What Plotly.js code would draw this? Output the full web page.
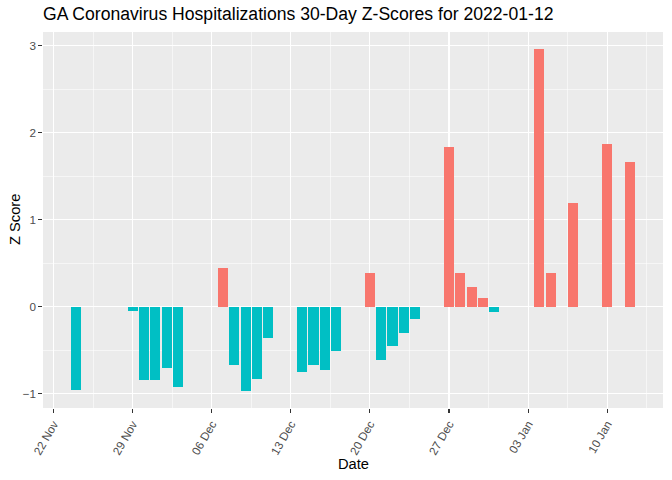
<!DOCTYPE html>
<html>
<head>
<meta charset="utf-8">
<script src="https://cdn.plot.ly/plotly-3.0.1.min.js"></script>
<style>html,body{margin:0;padding:0;background:#fff;}#chart{width:672px;height:480px;}</style>
</head>
<body>
<div id="chart"></div>
<script>
var dates = ["2021-11-24","2021-11-29","2021-11-30","2021-12-01","2021-12-02","2021-12-03",
  "2021-12-07","2021-12-08","2021-12-09","2021-12-10","2021-12-11",
  "2021-12-14","2021-12-15","2021-12-16","2021-12-17",
  "2021-12-20","2021-12-21","2021-12-22","2021-12-23","2021-12-24",
  "2021-12-27","2021-12-28","2021-12-29","2021-12-30","2021-12-31",
  "2022-01-04","2022-01-05","2022-01-07","2022-01-10","2022-01-12"];
var zScores = [-0.96,-0.05,-0.84,-0.85,-0.71,-0.92,
  0.44,-0.67,-0.97,-0.83,-0.36,
  -0.75,-0.67,-0.73,-0.51,
  0.38,-0.61,-0.45,-0.30,-0.14,
  1.83,0.39,0.22,0.10,-0.06,
  2.96,0.39,1.19,1.87,1.66];
var posColor = "#F8766D", negColor = "#00BFC4";

var DAY = 86400000;
var barW = 0.9 * DAY;
function t(s){ return Date.parse(s + "T00:00:00Z"); }
var tMin = Math.min.apply(null, dates.map(t)) - barW/2;
var tMax = Math.max.apply(null, dates.map(t)) + barW/2;
var xPad = (tMax - tMin) * 0.05;
function iso(ms){ return new Date(ms).toISOString().replace("T"," ").replace("Z",""); }
var yMin = Math.min(0, Math.min.apply(null, zScores));
var yMax = Math.max(0, Math.max.apply(null, zScores));
var yPad = (yMax - yMin) * 0.05;

var trace = {
  type: "bar",
  x: dates,
  y: zScores,
  width: dates.map(function(){ return barW; }),
  marker: {color: zScores.map(function(v){ return v >= 0 ? posColor : negColor; }), line: {width: 0}},
  hoverinfo: "x+y",
  showlegend: false
};

var layout = {
  width: 672, height: 480,
  margin: {l: 43, r: 9, t: 32, b: 72},
  paper_bgcolor: "#FFFFFF",
  plot_bgcolor: "#EBEBEB",
  font: {family: "Liberation Sans, Arial, sans-serif", color: "#000000"},
  title: {text: "GA Coronavirus Hospitalizations 30-Day Z-Scores for 2022-01-12",
    font: {size: 17.6, color: "#000000"},
    x: 43/672, xanchor: "left", xref: "container", y: 1 - 14/480, yanchor: "middle", yref: "container"},
  bargap: 0,
  xaxis: {
    type: "date",
    range: [iso(tMin - xPad), iso(tMax + xPad)],
    tick0: "2021-11-22", dtick: 7 * DAY,
    tickformat: "%d %b",
    tickangle: -60,
    ticks: "outside", ticklen: 3.7, tickwidth: 1.07, tickcolor: "#333333",
    tickfont: {size: 11.7, color: "#4D4D4D"},
    showgrid: true, gridcolor: "#FFFFFF", gridwidth: 1.07,
    minor: {tick0: "2021-11-22", dtick: 3.5 * DAY, showgrid: true, gridcolor: "#FFFFFF", gridwidth: 0.53, ticks: ""},
    zeroline: false, showline: false,
    automargin: false
  },
  yaxis: {
    range: [yMin - yPad, yMax + yPad],
    tick0: 0, dtick: 1,
    ticks: "outside", ticklen: 3.7, tickwidth: 1.07, tickcolor: "#333333",
    tickfont: {size: 11.7, color: "#4D4D4D"},
    showgrid: true, gridcolor: "#FFFFFF", gridwidth: 1.07,
    minor: {dtick: 0.5, showgrid: true, gridcolor: "#FFFFFF", gridwidth: 0.53, ticks: ""},
    zeroline: false, showline: false,
    automargin: false
  },
  annotations: [
    {text: "Z Score", textangle: -90, xref: "paper", yref: "paper", x: (15 - 43) / 620, y: 0.5,
      xanchor: "center", yanchor: "middle", showarrow: false, font: {size: 14.7, color: "#000000"}},
    {text: "Date", xref: "paper", yref: "paper", x: 0.5, y: -(464 - 408) / 376,
      xanchor: "center", yanchor: "middle", showarrow: false, font: {size: 14.7, color: "#000000"}}
  ]
};

Plotly.newPlot("chart", [trace], layout, {displayModeBar: false, staticPlot: true});
</script>
</body>
</html>
